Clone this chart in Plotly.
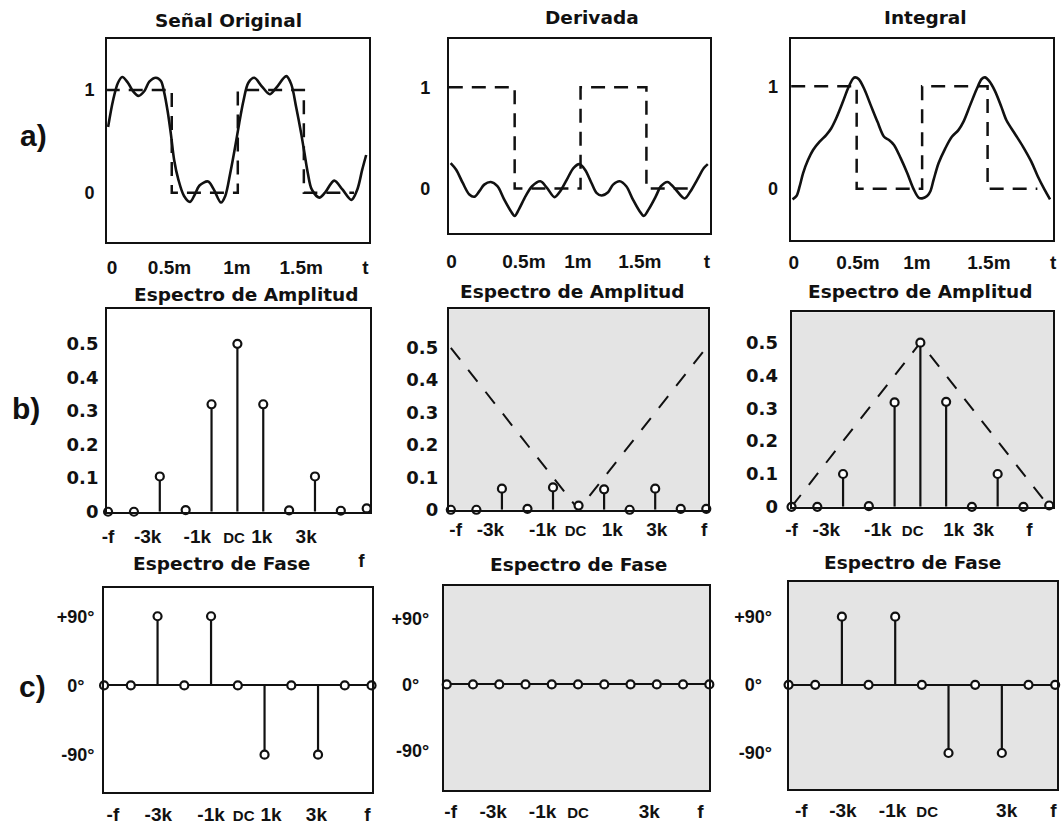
import plotly.graph_objects as go

W, H = 1063, 828
INK = "#111111"
PANEL_GRAY = "#e4e4e4"
ARIAL = "Liberation Sans, Arial, sans-serif"
DEJAVU = "DejaVu Sans, sans-serif"

# ---------------- time domain (t in ms) ----------------
SQUARE_T = [0.0, 0.5, 0.5, 1.0, 1.0, 1.5, 1.5, 1.88]
SQUARE_V = [1, 1, 0, 0, 1, 1, 0, 0]

ORIG_T = [0.018, 0.055, 0.093, 0.125, 0.168, 0.205, 0.248, 0.293, 0.330, 0.380,
          0.418, 0.443, 0.468, 0.493, 0.518, 0.550, 0.593, 0.638, 0.675, 0.710,
          0.775, 0.818, 0.873, 0.905, 0.943, 0.980, 1.010, 1.043, 1.080, 1.125,
          1.180, 1.242, 1.292, 1.367, 1.405, 1.442, 1.480, 1.505, 1.530, 1.560,
          1.617, 1.660, 1.730, 1.792, 1.860, 1.905, 1.942, 1.972]
ORIG_V = [0.639, 0.895, 1.070, 1.125, 1.070, 0.990, 0.942, 0.990, 1.080, 1.118,
          1.086, 0.974, 0.799, 0.575, 0.319, 0.128, -0.032, -0.089, -0.016, 0.070,
          0.109, 0.032, -0.096, -0.032, 0.192, 0.447, 0.671, 0.895, 1.070, 1.118,
          1.038, 0.958, 1.022, 1.134, 1.054, 0.831, 0.575, 0.383, 0.192, 0.032,
          -0.048, 0.000, 0.118, 0.032, -0.070, 0.032, 0.224, 0.367]

DERIV_T = [0.014, 0.056, 0.106, 0.156, 0.194, 0.232, 0.269, 0.319, 0.369, 0.420,
           0.470, 0.500, 0.532, 0.583, 0.632, 0.695, 0.745, 0.803, 0.846, 0.896,
           0.946, 0.991, 1.034, 1.083, 1.121, 1.159, 1.209, 1.247, 1.297, 1.347,
           1.397, 1.447, 1.480, 1.517, 1.572, 1.610, 1.660, 1.711, 1.790, 1.835,
           1.886, 1.936, 1.966]
DERIV_V = [0.251, 0.186, 0.055, -0.059, -0.081, -0.026, 0.039, 0.065, 0.023, -0.107,
           -0.221, -0.270, -0.205, -0.075, 0.023, 0.072, 0.007, -0.085, -0.026, 0.088,
           0.202, 0.241, 0.186, 0.055, -0.042, -0.068, -0.036, 0.039, 0.072, 0.023,
           -0.107, -0.221, -0.270, -0.205, -0.075, 0.023, 0.065, 0.007, -0.098, -0.026,
           0.088, 0.202, 0.241]

INTEG_T = [0.010, 0.040, 0.065, 0.091, 0.129, 0.167, 0.217, 0.267, 0.305, 0.343,
           0.394, 0.432, 0.470, 0.487, 0.515, 0.558, 0.608, 0.659, 0.709, 0.747,
           0.785, 0.836, 0.886, 0.936, 0.974, 1.000, 1.038, 1.063, 1.088, 1.126,
           1.177, 1.227, 1.277, 1.315, 1.366, 1.417, 1.455, 1.480, 1.510, 1.555,
           1.606, 1.644, 1.707, 1.770, 1.833, 1.883, 1.934, 1.977]
INTEG_V = [-0.103, -0.071, 0.026, 0.154, 0.283, 0.379, 0.460, 0.524, 0.588, 0.685,
           0.846, 0.974, 1.071, 1.087, 1.071, 0.974, 0.814, 0.653, 0.508, 0.476,
           0.428, 0.299, 0.154, -0.006, -0.087, -0.093, -0.071, -0.023, 0.090, 0.251,
           0.395, 0.508, 0.572, 0.653, 0.814, 0.974, 1.071, 1.087, 1.055, 0.958,
           0.797, 0.669, 0.540, 0.412, 0.267, 0.122, -0.006, -0.103]

TIME_TICKS = ["0", "0.5m", "1m", "1.5m", "t"]
LEVEL_VALS = [0, 1]
LEVEL_TICKS = ["0", "1"]

# ---------------- spectra (harmonic index, kHz) ----------------
FREQ_K = [-5, -4, -3, -2, -1, 0, 1, 2, 3, 4, 5]
AMP_ORIG = [0.0, 0.0, 0.105, 0.005, 0.32, 0.5, 0.32, 0.004, 0.105, 0.003, 0.01]
AMP_DERIV = [0.0, 0.0, 0.065, 0.003, 0.069, 0.013, 0.063, 0.0, 0.065, 0.003, 0.003]
AMP_INTEG = [0.0, 0.0, 0.1, 0.002, 0.318, 0.5, 0.32, 0.0, 0.1, 0.0, 0.004]

ENV_K = [-5, 0, 5]
DERIV_ENV = [0.5, 0.0, 0.5]
INTEG_ENV = [0.0, 0.5, 0.0]

AMP_VALS = [0, 0.1, 0.2, 0.3, 0.4, 0.5]
AMP_TICKS = ["0", "0.1", "0.2", "0.3", "0.4", "0.5"]

PHASE_ORIG = [0, 0, 90, 0, 90, 0, -90, 0, -90, 0, 0]
PHASE_DERIV = [0, 0, 0, 0, 0, 0, 0, 0, 0, 0, 0]
PHASE_INTEG = [0, 0, 90, 0, 90, 0, -90, 0, -90, 0, 0]

PHASE_VALS = [-90, 0, 90]
PHASE_TICKS = ["-90°", "0°", "+90°"]

FREQ_TICKS = ["-f", "-3k", "-1k", "DC", "1k", "3k", "f"]

TITLES = ["Señal Original", "Derivada", "Integral",
          "Espectro de Amplitud", "Espectro de Amplitud", "Espectro de Amplitud",
          "Espectro de Fase", "Espectro de Fase", "Espectro de Fase"]
ROW_LABELS = ["a)", "b)", "c)"]


def freq_ticktext(labels):
    out = []
    for s in labels:
        if s == "DC":
            out.append("<span style='font-size:15px'>DC</span>")
        else:
            out.append(s)
    return out


def phase_ticktext(labels):
    # the short "0°" label sits centred under the wider ±90° labels
    return [s + "&nbsp;&nbsp;" if s == "0°" else s for s in labels]


fig = go.Figure()

# pixel boxes: (left, right, top, bottom)
panels = [
    dict(box=(102, 366, 39, 245), xr=[0.01, 1.99], yr=[-0.48, 1.5], bg="white",
         xt=[0.048, 0.483, 0.993, 1.48, 1.966], xl=TIME_TICKS,
         yt=LEVEL_VALS, yl=LEVEL_TICKS, xs=7, ys=7, yfont=(ARIAL, 18)),
    dict(box=(447, 711, 39, 236), xr=[0.0, 1.985], yr=[-0.44, 1.48], bg="white",
         xt=[0.02, 0.57, 0.98, 1.45, 1.96], xl=TIME_TICKS,
         yt=LEVEL_VALS, yl=LEVEL_TICKS, xs=10, ys=13, yfont=(ARIAL, 18)),
    dict(box=(792, 1057, 39, 243), xr=[-0.005, 2.0], yr=[-0.5, 1.466], bg="white",
         xt=[0.02, 0.51, 0.96, 1.51, 2.0], xl=TIME_TICKS,
         yt=LEVEL_VALS, yl=LEVEL_TICKS, xs=4, ys=7, yfont=(ARIAL, 18)),
    dict(box=(102, 367, 313, 518), xr=[-5.04, 5.11], yr=[0, 0.603], bg="white",
         xt=[-5.0, -3.47, -1.55, -0.13, 0.94, 2.66, 4.8], xl=FREQ_TICKS,
         yt=AMP_VALS, yl=AMP_TICKS, xs=6, ys=3, yfont=(DEJAVU, 18), lowf=True),
    dict(box=(447, 709, 313, 516), xr=[-5.08, 5.08], yr=[0, 0.619], bg=PANEL_GRAY,
         xt=[-4.81, -3.45, -1.40, -0.12, 1.32, 3.06, 4.92], xl=FREQ_TICKS,
         yt=AMP_VALS, yl=AMP_TICKS, xs=1, ys=5, yfont=(DEJAVU, 18)),
    dict(box=(793, 1057, 316, 513), xr=[-5.0, 5.15], yr=[0, 0.593], bg=PANEL_GRAY,
         xt=[-5.0, -3.65, -1.65, -0.30, 1.3, 2.45, 4.23], xl=FREQ_TICKS,
         yt=AMP_VALS, yl=AMP_TICKS, xs=4, ys=8, yfont=(DEJAVU, 18)),
    dict(box=(99, 369, 595, 802), xr=[-5.0, 5.0], yr=[-139, 127], bg="white",
         xt=[-4.67, -2.97, -1.0, 0.22, 1.24, 2.94, 4.85], xl=FREQ_TICKS,
         yt=PHASE_VALS, yl=PHASE_TICKS, xs=4, ys=4, yfont=(ARIAL, 18)),
    dict(box=(442, 710, 593, 800), xr=[-5.11, 5.0], yr=[-144, 134], bg=PANEL_GRAY,
         xt=[-4.85, -3.23, -1.35, 0.0, 2.71, 4.66],
         xl=[s for s in FREQ_TICKS if s != "1k"],
         yt=PHASE_VALS, yl=PHASE_TICKS, xs=3, ys=9, yfont=(ARIAL, 18)),
    dict(box=(790, 1061, 589, 799), xr=[-5.0, 5.07], yr=[-138, 136], bg=PANEL_GRAY,
         xt=[-4.52, -2.96, -1.1, 0.2, 3.18, 4.93],
         xl=[s for s in FREQ_TICKS if s != "1k"],
         yt=PHASE_VALS, yl=PHASE_TICKS, xs=3, ys=11, yfont=(ARIAL, 18)),
]

layout_axes = {}
for i, p in enumerate(panels):
    n = i + 1
    sfx = "" if n == 1 else str(n)
    left, right, top, bottom = p["box"]
    xl = p["xl"]
    yl = p["yl"]
    if i >= 3:
        xl = freq_ticktext(xl)
        if p.get("lowf"):
            xl = [("<br>f" if s == "f" else s) for s in xl]
    if i >= 6:
        yl = phase_ticktext(yl)
    layout_axes["xaxis" + sfx] = dict(
        domain=[left / W, right / W], range=p["xr"], anchor="y" + sfx,
        showline=True, mirror=True, linecolor=INK, linewidth=2,
        showgrid=False, zeroline=False, ticks="", fixedrange=True,
        tickmode="array", tickvals=p["xt"], ticktext=xl,
        ticklabelstandoff=p["xs"],
        tickfont=dict(family=ARIAL, size=19, color=INK, weight="bold"),
    )
    layout_axes["yaxis" + sfx] = dict(
        domain=[1 - bottom / H, 1 - top / H], range=p["yr"], anchor="x" + sfx,
        showline=True, mirror=True, linecolor=INK, linewidth=2,
        showgrid=False, ticks="", fixedrange=True,
        zeroline=(i >= 6), zerolinecolor=INK, zerolinewidth=2,
        tickmode="array", tickvals=p["yt"], ticktext=yl,
        ticklabelstandoff=p["ys"],
        tickfont=dict(family=p["yfont"][0], size=p["yfont"][1], color=INK, weight="bold"),
    )

# gray panel backgrounds
shapes = []
for i, p in enumerate(panels):
    if p["bg"] != "white":
        n = i + 1
        sfx = "" if n == 1 else str(n)
        shapes.append(dict(type="rect", xref="x" + sfx + " domain", yref="y" + sfx + " domain",
                           x0=0, x1=1, y0=0, y1=1, fillcolor=p["bg"],
                           line=dict(width=0), layer="below"))


def ax(n):
    return ("x" if n == 1 else "x%d" % n), ("y" if n == 1 else "y%d" % n)


# time-domain panels
for n, (t, v) in enumerate([(ORIG_T, ORIG_V), (DERIV_T, DERIV_V), (INTEG_T, INTEG_V)], start=1):
    xa, ya = ax(n)
    fig.add_trace(go.Scatter(x=SQUARE_T, y=SQUARE_V, mode="lines", xaxis=xa, yaxis=ya,
                             line=dict(color=INK, width=2.5, dash="14px,9px"),
                             hoverinfo="skip", showlegend=False))
    fig.add_trace(go.Scatter(x=t, y=v, mode="lines", xaxis=xa, yaxis=ya,
                             line=dict(color=INK, width=2.6, shape="spline", smoothing=0.9),
                             hoverinfo="skip", showlegend=False))

# envelopes of the amplitude spectra
for n, env in [(5, DERIV_ENV), (6, INTEG_ENV)]:
    xa, ya = ax(n)
    fig.add_trace(go.Scatter(x=ENV_K, y=env, mode="lines", xaxis=xa, yaxis=ya,
                             line=dict(color=INK, width=2, dash="15px,13px"),
                             hoverinfo="skip", showlegend=False))

# stem plots
for n, vals in [(4, AMP_ORIG), (5, AMP_DERIV), (6, AMP_INTEG),
                (7, PHASE_ORIG), (8, PHASE_DERIV), (9, PHASE_INTEG)]:
    xa, ya = ax(n)
    sx, sy = [], []
    for k, v in zip(FREQ_K, vals):
        sx += [k, k, None]
        sy += [0, v, None]
    fig.add_trace(go.Scatter(x=sx, y=sy, mode="lines", xaxis=xa, yaxis=ya,
                             line=dict(color=INK, width=2.2),
                             hoverinfo="skip", showlegend=False, cliponaxis=False))
    fig.add_trace(go.Scatter(x=FREQ_K, y=vals, mode="markers", xaxis=xa, yaxis=ya,
                             marker=dict(symbol="circle", size=8, color="white",
                                         line=dict(color=INK, width=2.2)),
                             hoverinfo="skip", showlegend=False, cliponaxis=False))

# titles and row labels
title_pos = [(225, 21), (592, 18), (928, 18),
             (243, 298), (572, 295), (923, 295),
             (218, 570), (578, 571), (915, 569)]
annotations = []
for txt, (px, py) in zip(TITLES, title_pos):
    annotations.append(dict(text=txt, x=px / W, y=1 - py / H, xref="paper", yref="paper",
                            xanchor="center", yanchor="middle", showarrow=False,
                            font=dict(family=DEJAVU, size=18.5, color=INK, weight="bold")))
for txt, (px, py) in zip(ROW_LABELS, [(28, 137), (20, 413), (27, 695)]):
    annotations.append(dict(text=txt, x=px / W, y=1 - py / H, xref="paper", yref="paper",
                            xanchor="center", yanchor="middle", showarrow=False,
                            font=dict(family=ARIAL, size=30, color=INK, weight="bold")))

fig.update_layout(
    width=W, height=H, margin=dict(l=0, r=0, t=0, b=0),
    paper_bgcolor="white", plot_bgcolor="white",
    shapes=shapes, annotations=annotations, showlegend=False,
    **layout_axes,
)

fig.write_html("out.html", config={"displayModeBar": False})
